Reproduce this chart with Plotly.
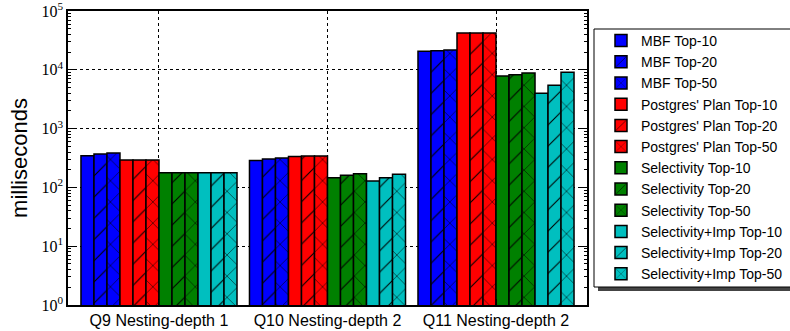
import plotly.graph_objects as go

categories = ["Q9 Nesting-depth 1", "Q10 Nesting-depth 2", "Q11 Nesting-depth 2"]

series_names = [
    "MBF Top-10", "MBF Top-20", "MBF Top-50",
    "Postgres' Plan Top-10", "Postgres' Plan Top-20", "Postgres' Plan Top-50",
    "Selectivity Top-10", "Selectivity Top-20", "Selectivity Top-50",
    "Selectivity+Imp Top-10", "Selectivity+Imp Top-20", "Selectivity+Imp Top-50",
]

mbf_top10 = [346, 288, 20650]
mbf_top20 = [370, 304, 21200]
mbf_top50 = [385, 316, 21700]
pg_top10 = [292, 337, 42300]
pg_top20 = [292, 342, 42300]
pg_top50 = [292, 342, 42300]
sel_top10 = [178, 146, 7850]
sel_top20 = [178, 161, 8260]
sel_top50 = [178, 171, 8830]
selimp_top10 = [177, 128, 3990]
selimp_top20 = [177, 146, 5450]
selimp_top50 = [177, 167, 9070]

series_values = [mbf_top10, mbf_top20, mbf_top50, pg_top10, pg_top20, pg_top50,
                 sel_top10, sel_top20, sel_top50, selimp_top10, selimp_top20, selimp_top50]

colors = ["#0000ff"] * 3 + ["#ff0000"] * 3 + ["#008000"] * 3 + ["#00bfbf"] * 3
patterns = ["", "/", "x"] * 4

ytick_vals = [1, 10, 100, 1000, 10000, 100000]
ytick_text = ["10<sup>0</sup>", "10<sup>1</sup>", "10<sup>2</sup>", "10<sup>3</sup>",
              "10<sup>4</sup>", "10<sup>5</sup>"]
minor_vals = [m * 10 ** d for d in range(5) for m in range(2, 10)]

fig = go.Figure()
for name, vals, col, pat in zip(series_names, series_values, colors, patterns):
    fig.add_trace(go.Bar(
        x=categories, y=vals, name=name,
        marker=dict(color=col, line=dict(color="black", width=1.5),
                    pattern=dict(shape=pat, fgcolor="black", bgcolor=col,
                                 size=15, solidity=0.07, fillmode="replace")),
    ))

W, H = 790, 331
L, R, T, B = 68, 587, 11, 305
PW, PH = R - L, B - T

# legend frame (pixels), drawn as shapes behind the legend
LG_X0, LG_Y0, LG_Y1 = 594, 29, 287


def px_x(p):
    return (p - L) / PW


def px_y(p):
    return (B - p) / PH


fig.add_shape(type="rect", xref="paper", yref="paper",
              x0=px_x(LG_X0 + 4), x1=px_x(W + 20),
              y0=px_y(LG_Y1 + 4), y1=px_y(LG_Y0 + 4),
              fillcolor="#444444", line=dict(width=0), layer="above")
fig.add_shape(type="rect", xref="paper", yref="paper",
              x0=px_x(LG_X0), x1=px_x(W + 20),
              y0=px_y(LG_Y1), y1=px_y(LG_Y0),
              fillcolor="white", line=dict(width=1, color="black"), layer="above")

fig.update_layout(
    width=W, height=H,
    margin=dict(l=L, r=W - R, t=T, b=H - B, autoexpand=False),
    barmode="group", bargap=0.074, bargroupgap=0,
    plot_bgcolor="white", paper_bgcolor="white",
    font=dict(family="Liberation Sans, Arial, sans-serif", color="black"),
    showlegend=True,
    legend=dict(
        x=px_x(601), xanchor="left",
        y=px_y(25), yanchor="top",
        bgcolor="rgba(0,0,0,0)", borderwidth=0,
        font=dict(size=14, family="Liberation Sans, Arial, sans-serif"),
        tracegroupgap=0,
    ),
    xaxis=dict(
        showline=True, linecolor="black", linewidth=1.5, mirror=True,
        ticks="inside", ticklen=6, tickcolor="black",
        showgrid=True, gridcolor="black", griddash="dot", gridwidth=1,
        tickfont=dict(size=16),
        range=[-0.54, 2.54],
    ),
    yaxis=dict(
        type="log", range=[0, 5.0005],
        tickvals=ytick_vals, ticktext=ytick_text,
        ticklabeloverflow="allow",
        showline=True, linecolor="black", linewidth=1.5, mirror="ticks",
        ticks="inside", ticklen=6, tickcolor="black",
        showgrid=True, gridcolor="black", griddash="dot", gridwidth=1,
        tickfont=dict(size=16, family="Liberation Serif, DejaVu Serif, serif"),
        minor=dict(tickvals=minor_vals, ticks="inside", ticklen=3,
                   tickcolor="black", showgrid=False),
        title=dict(text="milliseconds", font=dict(size=22), standoff=8),
    ),
)

fig.write_html("out.html", config={"displayModeBar": False},
               post_script="document.body.style.margin='0';document.body.style.overflow='hidden';")
